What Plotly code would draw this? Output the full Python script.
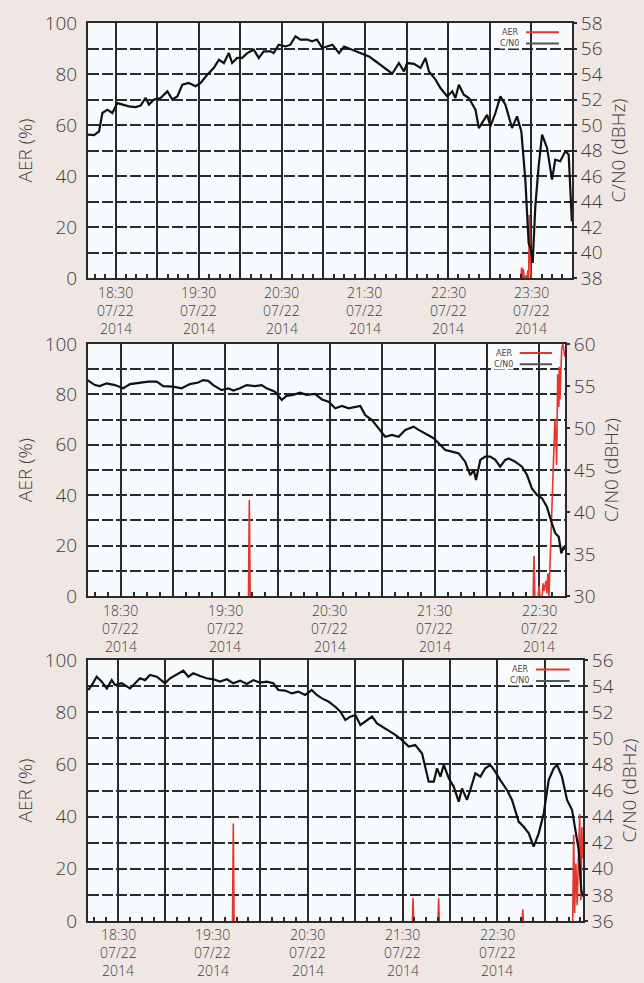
import pandas as pd
import plotly.graph_objects as go

BASE = pd.Timestamp("2014-07-22 18:00:00")

# ---------------- data (minutes after 18:00, values) ----------------
# Panel 1
p1_range_min = [10.0, 359.5]
p1_cn0_t = [10.0,14.4,18.0,20.4,24.0,27.6,31.2,34.8,39.6,44.4,
            48.0,51.6,54.0,57.6,62.4,67.3,70.9,74.5,78.1,82.8,
            87.7,91.3,96.1,100.9,104.5,108.1,111.7,114.1,117.7,121.3,
            125.0,129.7,133.3,136.9,141.8,144.1,147.7,152.6,156.2,159.8,
            163.4,168.2,171.8,175.4,179.2,
            186.5,191.3,194.9,200.9,208.1,212.9,217.7,223.7,229.7,234.5,
            238.2,240.5,245.4,250.1,253.7,256.2,261.0,264.5,269.4,273.0,
            275.3,277.8,281.4,285.0,289.8,292.2,294.6,298.2,300.6,304.2,
            307.8,311.4,316.2,319.8,322.9,325.8,328.2,329.9,331.1,333.0,
            335.4,337.9,341.5,345.1,347.4,351.0,354.7,357.1,359.4]
p1_cn0 = [49.24,49.2,49.5,50.94,51.2,50.94,51.72,51.6,51.46,51.4,
          51.52,52.12,51.6,52.0,52.12,52.64,52.0,52.24,53.16,53.3,
          53.04,53.3,53.94,54.48,55.12,54.86,55.64,54.86,55.26,55.26,
          55.64,55.9,55.26,55.78,55.78,55.64,56.3,56.16,56.3,56.96,
          56.7,56.7,56.56,56.7,56.04,
          56.3,55.64,56.16,55.9,55.64,55.38,55.0,54.48,54.02,54.86,
          54.2,54.86,54.8,54.48,55.26,54.2,53.56,52.9,52.24,52.64,
          52.12,53.16,52.38,52.12,51.2,49.76,50.16,50.8,49.9,50.94,
          52.24,51.6,49.76,50.68,49.5,45.72,40.74,40.22,39.18,43.6,
          46.76,49.24,48.2,45.72,47.28,47.16,47.94,47.68,42.44]
# None separates isolated AER bursts (no trace drawn along zero)
p1_aer_t = [322.5,323.2,323.8,324.4,325.0,None,326.0,326.3,326.6,None,
            327.0,327.7,328.2,328.7,329.7,330.3]
p1_aer = [0,4.2,0,3.5,0,None,0,1,0,None,
          0,3,0,24.7,2,0]

# Panel 2
p2_range_min = [11.1, 284.9]
p2_cn0_t = [10.7,15.1,17.9,21.8,26.6,31.3,35.2,40.9,45.7,50.5,
            54.3,60.0,64.8,69.6,74.4,77.2,80.1,83.0,87.8,91.6,
            94.5,98.3,102.2,106.9,110.8,113.6,118.4,122.3,125.1,128.9,
            132.8,136.6,141.4,145.4,
            149.2,153.0,156.9,160.7,164.5,167.4,170.2,174.1,177.9,181.7,
            185.6,189.4,193.2,198.0,200.9,204.7,209.5,212.4,216.2,220.0,
            223.9,227.6,230.5,232.5,233.8,236.3,239.1,242.0,244.9,247.7,
            250.6,252.6,256.3,260.2,263.1,265.9,268.8,271.7,274.5,277.4,
            279.3,281.3,282.8,284.1,284.8]
p2_cn0 = [55.71,55.11,54.99,55.32,55.11,54.72,55.23,55.41,55.53,55.53,
          54.99,54.93,54.72,55.23,55.41,55.71,55.62,55.11,54.51,54.72,
          54.45,54.72,55.11,54.99,55.11,54.72,54.33,53.34,53.82,53.94,
          54.21,53.94,54.06,53.4,
          53.13,52.35,52.62,52.35,52.47,52.62,51.54,50.94,49.95,48.96,
          49.17,48.96,49.77,50.16,49.77,49.29,48.78,48.18,47.37,47.19,
          46.98,45.99,44.4,45.0,43.8,46.2,46.59,46.59,46.2,45.39,
          46.2,46.38,45.99,45.39,44.4,42.81,42.03,41.64,40.62,38.64,
          37.47,37.05,35.07,35.88,35.49]
p2_aer_t = [103.2,103.7,104.2,None,266.6,267.1,267.6,None,269.5,270.0,270.5,None,
            271.8,272.3,272.8,274.0,274.5,275.1,275.7,276.3,277.2,278.0,278.6,
            279.1,279.7,280.1,280.7,281.4,281.6,282.0,283.0,283.7,284.8]
p2_aer = [0,38.1,0,None,0,16,0,None,0,4,0,None,
          0,5,2,6,1,9,0,12,30,45,55,
          70,62,52,88,75,91,78,98,100,95]

# Panel 3
p3_range_min = [11.0, 324.1]
p3_cn0_t = [11.2,13.4,16.5,19.7,22.9,26.0,28.1,32.3,37.6,40.8,
            43.9,47.1,50.2,54.5,57.6,59.7,62.9,67.1,71.3,74.5,
            77.6,81.9,86.1,90.3,94.5,98.8,102.9,107.2,111.4,115.6,
            119.8,124.1,128.2,131.4,135.6,139.9,144.0,148.3,152.5,155.7,
            159.0,
            163.3,167.4,170.6,173.8,176.9,180.1,183.3,186.4,190.7,193.8,
            197.0,201.2,205.4,209.6,213.9,218.0,222.3,226.5,229.7,231.8,
            233.9,236.0,239.2,242.3,245.5,247.6,250.7,252.8,256.0,259.2,
            262.3,265.5,268.6,271.8,276.0,279.2,283.4,286.6,289.8,292.9,
            296.1,299.3,302.4,305.6,307.7,310.8,314.0,317.2,319.2,321.4,
            323.0,324.0]
p3_cn0 = [53.7,54.08,54.72,54.34,53.82,54.46,54.08,54.22,53.82,54.22,
          54.6,54.46,54.86,54.72,54.46,54.22,54.6,54.86,55.18,54.72,
          54.98,54.78,54.6,54.52,54.34,54.52,54.22,54.42,54.16,54.46,
          54.26,54.34,54.22,53.7,53.66,53.44,53.58,53.32,53.7,53.32,
          53.06,
          52.8,52.42,52.04,51.4,51.66,51.78,51.02,51.28,51.66,51.14,
          50.9,50.64,50.26,49.86,49.36,49.48,48.84,46.68,46.68,47.7,
          47.06,47.96,46.94,46.3,45.14,46.16,45.28,46.04,47.32,47.06,
          47.7,47.96,47.44,46.8,46.04,45.28,43.62,43.22,42.72,41.7,
          42.72,44.26,46.8,47.7,47.96,47.06,45.28,44.5,42.98,41.44,
          38.38,37.88]
p3_aer_t = [102.4,102.9,103.4,None,216.2,216.6,217.0,None,232.4,232.8,233.2,None,
            285.6,286.0,286.4,None,317.6,318.2,318.8,319.6,320.4,321.2,322.0,
            322.8,323.4,324.0]
p3_aer = [0,37.4,0,None,0,8.7,0,None,0,8.7,0,None,
          0,4.5,0,None,0,33,3,22,6,30,41,
          8,36,24]

# axis ranges / ticks
aer_range = [0, 100]
cn0_ranges = [[38, 58], [30, 60], [36, 56]]
cn0_dticks = [2, 5, 2]
tick_hm = [["18:30", "19:30", "20:30", "21:30", "22:30", "23:30"],
           ["18:30", "19:30", "20:30", "21:30", "22:30"],
           ["18:30", "19:30", "20:30", "21:30", "22:30"]]
tick_md = "07/22"
tick_year = "2014"

panels = [
    (p1_range_min, p1_cn0_t, p1_cn0, p1_aer_t, p1_aer),
    (p2_range_min, p2_cn0_t, p2_cn0, p2_aer_t, p2_aer),
    (p3_range_min, p3_cn0_t, p3_cn0, p3_aer_t, p3_aer),
]

# ---------------- layout geometry (pixels in 644x983 figure) ----------------
W, H = 644, 983
boxes = [(88, 572, 23, 278), (88, 565, 344, 596), (88, 583, 660, 921)]


def to_time(mins):
    return [None if m is None else BASE + pd.Timedelta(minutes=m) for m in mins]


FONT = "Open Sans"
TXT = "#3c3c3c"
GRID = "#2a2a2a"
RED = "#e5362c"
BG = "#efe7e3"


def tfont(size):
    return dict(size=size, color=TXT, family=FONT, weight=300)


fig = go.Figure()
layout = dict(
    width=W, height=H,
    margin=dict(l=0, r=0, t=0, b=0),
    paper_bgcolor=BG,
    plot_bgcolor="#f8fbfd",
    showlegend=False,
    font=dict(family=FONT, color=TXT),
    annotations=[], shapes=[],
)

for i, (rng, ct, cv, at, av) in enumerate(panels):
    x0, x1, y0, y1 = boxes[i]
    xn = "x" if i == 0 else f"x{i+1}"
    yl = "y" if i == 0 else f"y{2*i+1}"
    yr = f"y{2*i+2}"
    xkey = "xaxis" if i == 0 else f"xaxis{i+1}"
    ylkey = "yaxis" if i == 0 else f"yaxis{2*i+1}"
    yrkey = f"yaxis{2*i+2}"
    xdom = [x0 / W, x1 / W]
    ydom = [1 - y1 / H, 1 - y0 / H]
    xr = to_time(rng)

    fig.add_trace(go.Scatter(x=to_time(at), y=av, mode="lines", name="AER",
                             line=dict(color=RED, width=1.6),
                             connectgaps=False, xaxis=xn, yaxis=yl))
    fig.add_trace(go.Scatter(x=to_time(ct), y=cv, mode="lines", name="C/N0",
                             line=dict(color="#111111", width=2.2),
                             xaxis=xn, yaxis=yr))

    layout[xkey] = dict(
        type="date", domain=xdom, anchor=yl,
        range=[xr[0], xr[1]],
        tick0="2014-07-22 18:00:00", dtick=30 * 60 * 1000,
        showgrid=True, gridcolor=GRID, gridwidth=2,
        showticklabels=False, ticks="",
        showline=True, linecolor=GRID, linewidth=2, mirror=True,
        zeroline=False, automargin=False,
        minor=dict(dtick=450000, tick0="2014-07-22 18:00:00",
                   ticks="inside", ticklen=4, tickwidth=1.5,
                   tickcolor=GRID, showgrid=False),
    )
    layout[ylkey] = dict(
        domain=ydom, anchor=xn, range=aer_range, dtick=20,
        showgrid=True, gridcolor=GRID, gridwidth=1.8, griddash="11px,3px",
        minor=dict(dtick=10, showgrid=True, gridcolor=GRID, gridwidth=1.8,
                   griddash="11px,3px"),
        showline=True, linecolor=GRID, linewidth=2, mirror=True,
        zeroline=False, ticks="", automargin=False,
        tickfont=tfont(19),
        ticklabelstandoff=5,
        title=dict(text="AER (%)", font=tfont(19), standoff=7),
    )
    layout[yrkey] = dict(
        overlaying=yl, side="right", anchor=xn,
        range=cn0_ranges[i], dtick=cn0_dticks[i],
        showgrid=False, zeroline=False, showline=False,
        ticks="outside", ticklen=4, tickcolor=GRID, tickwidth=1.5,
        automargin=False,
        tickfont=tfont(19),
        title=dict(text="C/N0 (dBHz)", font=tfont(19), standoff=10),
    )

    # three-line date labels under each major tick
    for hm in tick_hm[i]:
        tx = pd.Timestamp(f"2014-07-22 {hm}:00")
        for txt, shift in ((hm, -14), (tick_md, -32), (tick_year, -50)):
            layout["annotations"].append(dict(
                x=tx, xref=xn, y=0, yref=f"{yl} domain",
                text=txt, showarrow=False, yanchor="middle", xanchor="center",
                yshift=shift, font=tfont(14)))

    # legend (text left, line sample right)
    for name, col, yy in (("AER", RED, 0.964), ("C/N0", "#555555", 0.92)):
        layout["annotations"].append(dict(
            x=0.893, xref=f"{xn} domain", y=yy, yref=f"{yl} domain",
            text=name, showarrow=False, xanchor="right", yanchor="middle",
            bgcolor="#ffffff", borderpad=0,
            font=dict(size=8, color="#444444", family="DejaVu Sans")))
        layout["shapes"].append(dict(
            type="line", xref=f"{xn} domain", yref=f"{yl} domain",
            x0=0.905, x1=0.973, y0=yy, y1=yy,
            line=dict(color=col, width=2)))

fig.update_layout(**layout)
fig.write_html(
    "out.html",
    config={"displayModeBar": False},
    post_script=f"document.body.style.margin='0';document.body.style.background='{BG}';",
)
